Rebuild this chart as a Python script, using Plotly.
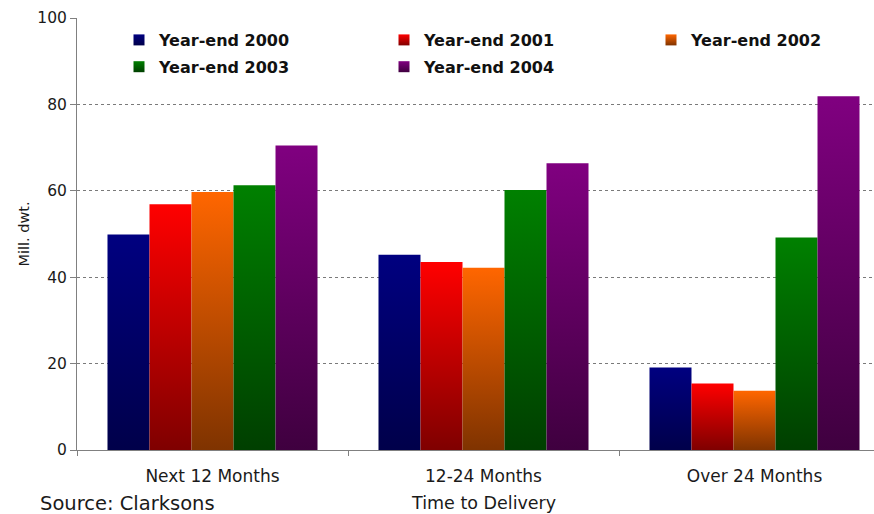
import plotly.graph_objects as go

# Orderbook by time to delivery (million dwt)
categories = ["Next 12 Months", "12-24 Months", "Over 24 Months"]
series_names = ["Year-end 2000", "Year-end 2001", "Year-end 2002",
                "Year-end 2003", "Year-end 2004"]
y2000 = [49.9, 45.2, 19.1]
y2001 = [56.9, 43.5, 15.4]
y2002 = [59.7, 42.2, 13.7]
y2003 = [61.3, 60.2, 49.2]
y2004 = [70.5, 66.4, 81.9]
series_values = [y2000, y2001, y2002, y2003, y2004]

y_ticks = [0, 20, 40, 60, 80, 100]

# gradient colours per series: bright at the bar top, dark at the base
top_colors = ["#000080", "#FF0000", "#FF6600", "#008000", "#800080"]
base_colors = ["#00004A", "#7F0000", "#7F3300", "#003F00", "#3F003F"]

FONT = "DejaVu Sans"
W, H = 874, 514
L, T, B = 77, 18, 64
CAT_PX = 271                      # pixel width of one category slot
plot_w = W - L
plot_h = H - T - B
x_max = -0.5 + plot_w / CAT_PX

group_w = 0.775                   # share of a category slot taken by the bars
bar_w = group_w / len(series_names)

# legend laid out as three columns (series j goes to column j % 3)
legend_ids = ["legend", "legend2", "legend3"]
legend_left_px = [119, 384, 651]

fig = go.Figure()

for j, (name, vals) in enumerate(zip(series_names, series_values)):
    for i, v in enumerate(vals):
        x0 = i - group_w / 2 + j * bar_w
        x1 = x0 + bar_w
        fig.add_trace(go.Scatter(
            x=[x0, x0, x1, x1, x0],
            y=[0, v, v, 0, 0],
            mode="lines",
            fill="toself",
            fillgradient=dict(
                type="vertical",
                colorscale=[[0, base_colors[j]], [1, top_colors[j]]],
                start=0, stop=v,
            ),
            line=dict(width=0, color="rgba(0,0,0,0)"),
            name=name,
            legendgroup=name,
            showlegend=False,
            hovertemplate=f"{categories[i]}<br>{name}: %{{y:.1f}}<extra></extra>",
        ))
    # legend swatch for the series
    fig.add_trace(go.Scatter(
        x=[None], y=[None],
        mode="markers",
        marker=dict(symbol="square", size=11, color=top_colors[j],
                    gradient=dict(type="vertical", color=base_colors[j]),
                    line=dict(width=0)),
        name=name,
        legendgroup=name,
        legend=legend_ids[j % 3],
        showlegend=True,
    ))

legend_style = dict(
    orientation="v",
    xanchor="left",
    y=1 - (23 - T) / plot_h, yanchor="top",
    font=dict(family=FONT, size=16, color="#111111", weight="bold"),
    bgcolor="rgba(0,0,0,0)",
    itemclick=False, itemdoubleclick=False,
    traceorder="grouped", tracegroupgap=3,
)

# the category axis runs past the right edge, so the axis title is centred
# on the full three-category span rather than on the visible plot area
axis_mid_px = CAT_PX * len(categories) / 2

fig.update_layout(
    width=W, height=H,
    margin=dict(l=L, r=0, t=T, b=B, pad=0),
    paper_bgcolor="white",
    plot_bgcolor="white",
    font=dict(family=FONT, size=15.5, color="#1a1a1a"),
    showlegend=True,
    annotations=[
        dict(
            text="Time to Delivery",
            xref="paper", yref="paper",
            x=axis_mid_px / plot_w, y=-(503 - (H - B)) / plot_h,
            xanchor="center", yanchor="middle",
            showarrow=False,
            font=dict(family=FONT, size=17.5, color="#1a1a1a"),
        ),
        dict(
            text="Source: Clarksons",
            xref="paper", yref="paper",
            x=(38 - L) / plot_w, y=-(503 - (H - B)) / plot_h,
            xanchor="left", yanchor="middle",
            showarrow=False,
            font=dict(family=FONT, size=19.5, color="#1a1a1a"),
        ),
    ],
)
for lid, left in zip(legend_ids, legend_left_px):
    fig.update_layout({lid: dict(legend_style, x=(left - L) / plot_w)})

fig.update_xaxes(
    range=[-0.5, x_max],
    tickmode="array",
    tickvals=list(range(len(categories))),
    ticktext=categories,
    ticks="",
    ticklabelstandoff=11,
    tickfont=dict(size=17),
    showgrid=False,
    zeroline=False,
    showline=True, linecolor="#808080", linewidth=1,
    minor=dict(tickmode="array", tickvals=[-0.5, 0.5, 1.5, 2.5],
               ticks="outside", ticklen=5, tickcolor="#808080", showgrid=False),
    fixedrange=True,
)

fig.update_yaxes(
    range=[0, 100],
    tickmode="array",
    tickvals=y_ticks,
    ticks="outside", ticklen=6, tickcolor="#808080",
    tickfont=dict(size=15.5),
    showgrid=True, gridcolor="#7a7a7a", griddash="dot", gridwidth=1,
    zeroline=False,
    showline=True, linecolor="#808080", linewidth=1,
    title=dict(text="Mill. dwt.", standoff=4,
               font=dict(family=FONT, size=14.5)),
    fixedrange=True,
)

fig.write_html("out.html")
